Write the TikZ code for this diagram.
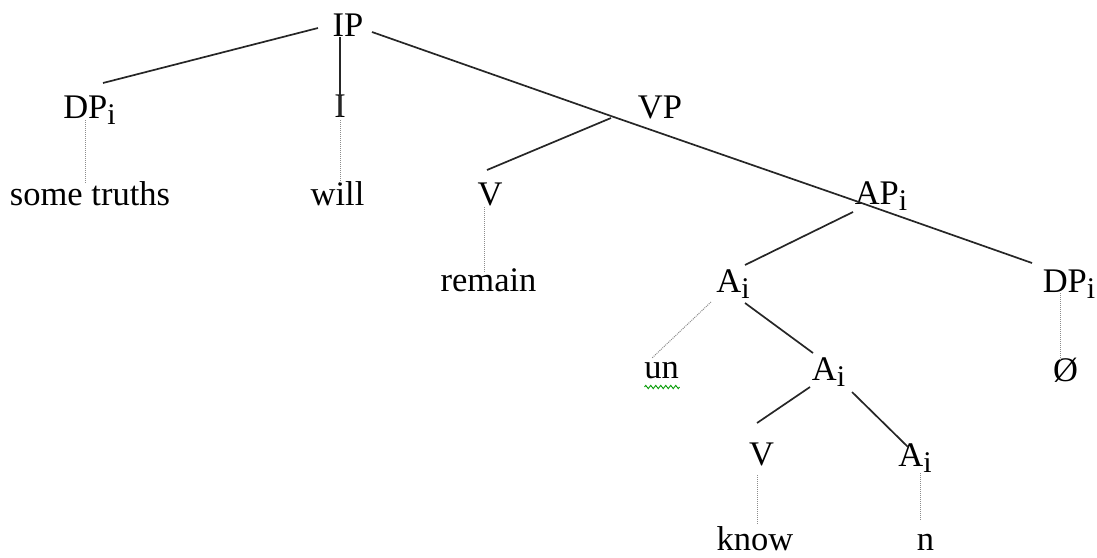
\documentclass[tikz,border=0pt]{standalone}
\usepackage{fontspec}
\setmainfont{Liberation Serif}
\usetikzlibrary{decorations.pathmorphing}
\newcommand\sbi{\raisebox{-6pt}{\fontsize{30}{30}\selectfont i}}
\begin{document}
\begin{tikzpicture}[x=1pt,y=-1pt,
  lbl/.style={anchor=base,inner sep=0pt,font=\fontsize{34.5}{40}\selectfont},
  branch/.style={draw=black!85,line width=1.7pt},
  leafline/.style={draw=black!45,line width=1pt,dash pattern=on 1pt off 1pt},
  squiggle/.style={draw=green!60!black,line width=0.9pt,decorate,decoration={zigzag,amplitude=1.6pt,segment length=5pt}}]
\useasboundingbox (0,0) rectangle (1097,557);
% nodes
\node[lbl] (IP) at (348,36) {IP};
\node[lbl] (DPl) at (89.5,118) {DP\sbi};
\node[lbl] (some) at (90,205) {some truths};
\node[lbl] (I) at (340,117) {I};
\node[lbl] (will) at (337.5,205) {will};
\node[lbl] (VP) at (660,118) {VP};
\node[lbl] (V1) at (490,205) {V};
\node[lbl] (remain) at (488.5,291) {remain};
\node[lbl] (AP) at (881,204) {AP\sbi};
\node[lbl] (A1) at (733,292) {A\sbi};
\node[lbl] (DPr) at (1069,292) {DP\sbi};
\node[lbl] (un) at (661.5,378) {un};
\node[lbl] (A2) at (828.5,380) {A\sbi};
\node[lbl] (null) at (1065.5,381) {Ø};
\node[lbl] (V2) at (761.5,465) {V};
\node[lbl] (A3) at (915,466) {A\sbi};
\node[lbl] (know) at (755,550) {know};
\node[lbl] (n) at (925.5,550) {n};
% branches
\draw[branch] ([shift={(-30,-8)}]IP.base) -- ([shift={(13.5,-35)}]DPl.base);
\draw[branch] ([shift={(-8,1)}]IP.base) -- (I.base);
\draw[branch] ([shift={(24,-4)}]IP.base) -- ([shift={(-49,-2)}]VP.base);
\draw[branch] ([shift={(-49,0)}]VP.base) -- ([shift={(-3,-35)}]V1.base);
\draw[branch] ([shift={(-49,-2)}]VP.base) -- ([shift={(-28,-4)}]AP.base);
\draw[branch] ([shift={(-28,-4)}]AP.base) -- ([shift={(-37,-29)}]DPr.base);
\draw[branch] ([shift={(-28,8)}]AP.base) -- ([shift={(12,-27)}]A1.base);
\draw[branch] ([shift={(12,11)}]A1.base) -- ([shift={(-15.5,-27)}]A2.base);
\draw[branch] ([shift={(-18.5,7)}]A2.base) -- ([shift={(-4.5,-42)}]V2.base);
\draw[branch] ([shift={(23.5,12)}]A2.base) -- ([shift={(-7,-19)}]A3.base);
% leaf lines
\draw[leafline] ([shift={(-4.5,2)}]DPl.base) -- ([shift={(-5,-22)}]some.base);
\draw[leafline] ([shift={(0,3)}]I.base) -- ([shift={(2.5,-22)}]will.base);
\draw[leafline] ([shift={(-6,2)}]V1.base) -- ([shift={(-4.5,-19)}]remain.base);
\draw[leafline] ([shift={(-22,10)}]A1.base) -- ([shift={(-9.5,-20)}]un.base);
\draw[leafline] ([shift={(-9,1)}]DPr.base) -- ([shift={(-5.5,-21)}]null.base);
\draw[leafline] ([shift={(-4.5,10)}]V2.base) -- ([shift={(2,-25)}]know.base);
\draw[leafline] ([shift={(5,7)}]A3.base) -- ([shift={(-5.5,-30)}]n.base);
% spell-check squiggle
\draw[squiggle] ([shift={(-17,9)}]un.base) -- ([shift={(18,9)}]un.base);
\end{tikzpicture}
\end{document}
